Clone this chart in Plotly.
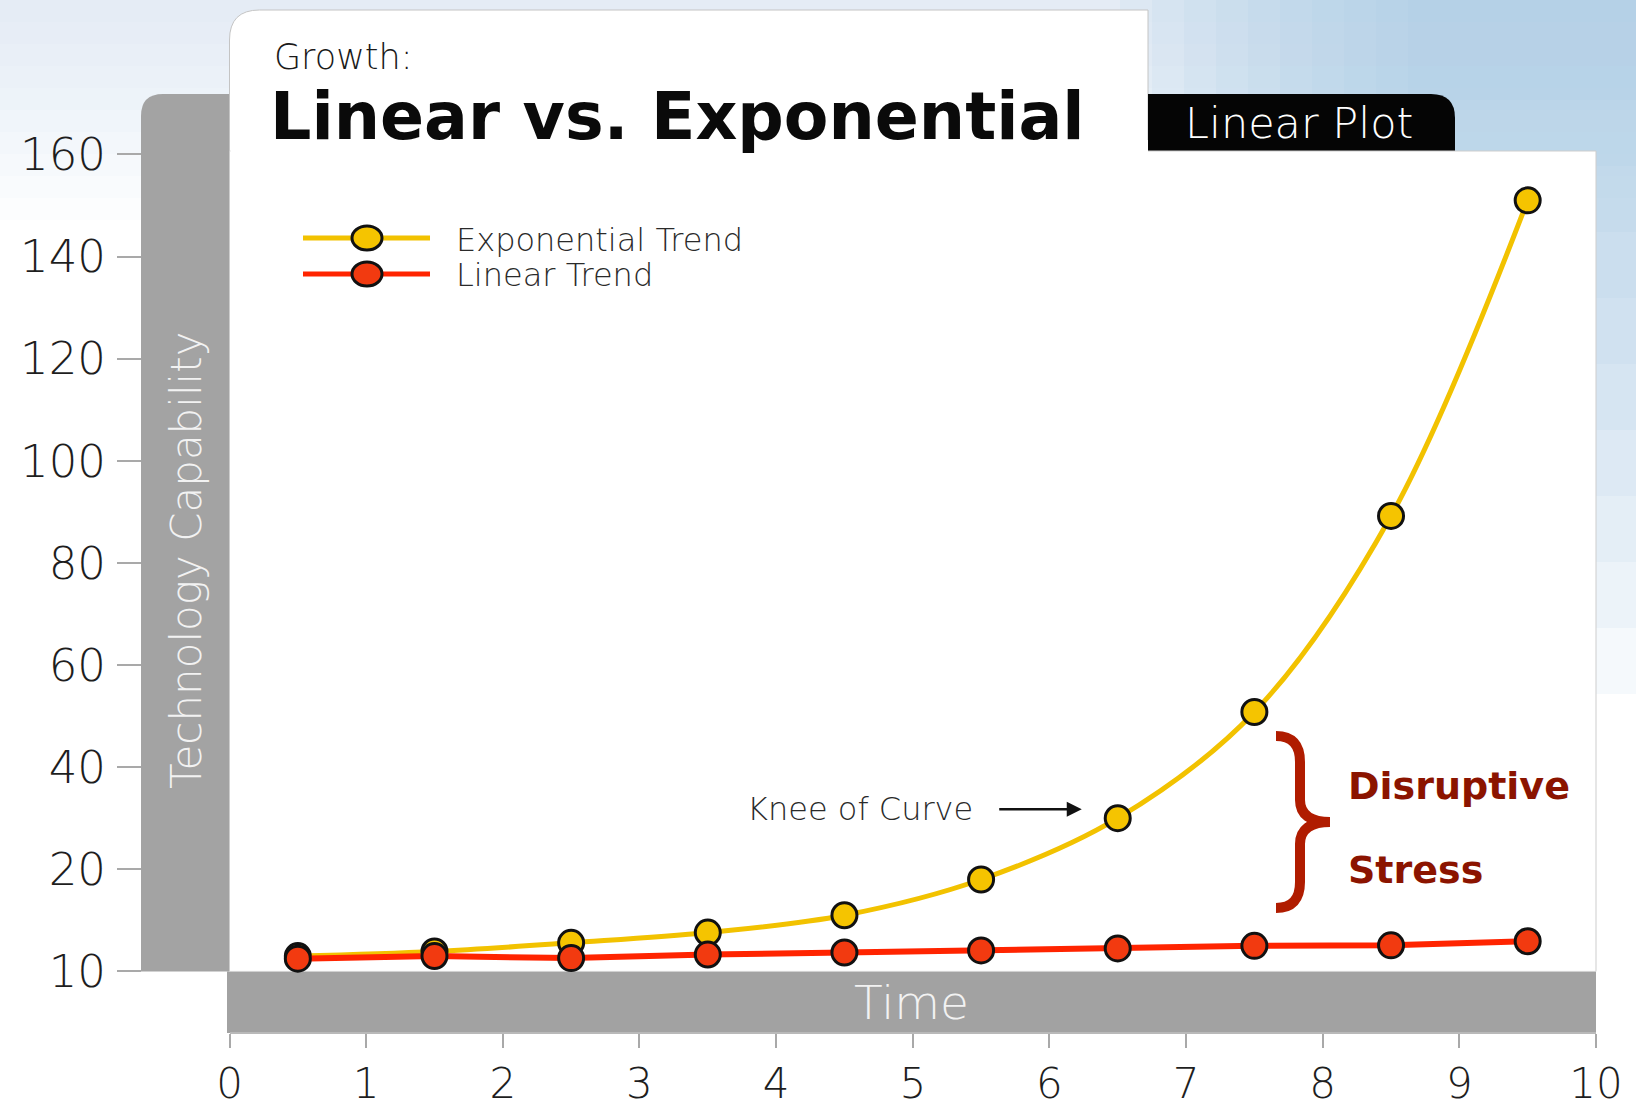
import plotly.graph_objects as go

# ---- data -------------------------------------------------------------
time_points = [0.5, 1.5, 2.5, 3.5, 4.5, 5.5, 6.5, 7.5, 8.5, 9.5]
exponential_trend = [3.0, 3.9, 5.6, 7.6, 11.0, 18.0, 30.0, 50.8, 89.2, 151.0]
linear_trend = [2.5, 3.0, 2.6, 3.3, 3.7, 4.1, 4.5, 5.0, 5.1, 5.9]

x_ticks = list(range(0, 11))
y_tick_values = [0, 20, 40, 60, 80, 100, 120, 140, 160]
y_tick_labels = ["10", "20", "40", "60", "80", "100", "120", "140", "160"]

# ---- page geometry (pixels) -------------------------------------------
W, H = 1636, 1112
PLOT_L, PLOT_R = 229.5, 1596
PLOT_T, PLOT_B = 154.4, 971.4


def px(x):
    return x / W


def py(y):
    return 1 - y / H


def rounded_path(x0, y0, x1, y1, r_tl=0, r_tr=0):
    """Rectangle path (pixel input, paper output) with optional rounded top corners."""
    pts = []
    pts.append(f"M {px(x0)},{py(y1)}")
    pts.append(f"L {px(x0)},{py(y0 + r_tl)}")
    if r_tl:
        pts.append(f"Q {px(x0)},{py(y0)} {px(x0 + r_tl)},{py(y0)}")
    pts.append(f"L {px(x1 - r_tr)},{py(y0)}")
    if r_tr:
        pts.append(f"Q {px(x1)},{py(y0)} {px(x1)},{py(y0 + r_tr)}")
    pts.append(f"L {px(x1)},{py(y1)} Z")
    return " ".join(pts)


FONT = "DejaVu Sans"
YELLOW = "#F5C400"
YELLOW_LINE = "#F2C200"
RED = "#F23A10"
RED_LINE = "#FF2400"
DARK_RED = "#8B1400"

shapes = []

# soft blue wash along the top and the right edge
for i in range(10):
    shapes.append(dict(type="rect", xref="paper", yref="paper", layer="below",
                       x0=0, x1=1, y0=py(22 * (i + 1)), y1=1,
                       fillcolor="#c9dcee", opacity=0.06, line_width=0))
for i in range(10):
    shapes.append(dict(type="rect", xref="paper", yref="paper", layer="below",
                       x0=px(1120 + 32 * i), x1=1, y0=py(100 + 66 * i), y1=1,
                       fillcolor="#a6c6e1", opacity=0.11, line_width=0))

# grey band behind the value axis
shapes.append(dict(type="path", xref="paper", yref="paper", layer="below",
                   path=rounded_path(141, 94, PLOT_L + 2, PLOT_B, r_tl=22),
                   fillcolor="#a3a3a3", line_width=0))
# grey band under the plot carrying the time label
shapes.append(dict(type="rect", xref="paper", yref="paper", layer="below",
                   x0=px(227), x1=px(PLOT_R), y0=py(1033), y1=py(PLOT_B),
                   fillcolor="#a2a2a2", line_width=0))
# title tab
shapes.append(dict(type="path", xref="paper", yref="paper", layer="below",
                   path=rounded_path(PLOT_L, 10, 1148, 160, r_tl=30),
                   fillcolor="#ffffff", line=dict(color="#c4c4c4", width=1)))
# "Linear Plot" tab
shapes.append(dict(type="path", xref="paper", yref="paper", layer="below",
                   path=rounded_path(1148, 94, 1455, 152, r_tr=24),
                   fillcolor="#050505", line_width=0))
# white plotting panel
shapes.append(dict(type="rect", xref="paper", yref="paper", layer="below",
                   x0=px(PLOT_L), x1=px(PLOT_R), y0=py(PLOT_B), y1=py(151),
                   fillcolor="#ffffff", line=dict(color="#cdcdcd", width=1)))
shapes.append(dict(type="rect", xref="paper", yref="paper", layer="below",
                   x0=px(PLOT_L + 1), x1=px(1148), y0=py(160), y1=py(140),
                   fillcolor="#ffffff", line_width=0))

# legend samples
for ly, lc, mc in [(238, YELLOW_LINE, YELLOW), (274, RED_LINE, RED)]:
    shapes.append(dict(type="line", xref="paper", yref="paper",
                       x0=px(303), x1=px(430), y0=py(ly), y1=py(ly),
                       line=dict(color=lc, width=5)))
    shapes.append(dict(type="circle", xref="paper", yref="paper",
                       x0=px(352), x1=px(382), y0=py(ly + 12), y1=py(ly - 12),
                       fillcolor=mc, line=dict(color="#111111", width=3)))

# curly brace spanning the disruptive-stress zone
bx0, bx1, bxm = 1276, 1330, 1300
bt, bb, bm = 736, 908, 822
brace = (f"M {px(bx0)},{py(bt)} "
         f"Q {px(bxm)},{py(bt)} {px(bxm)},{py(bt + 26)} "
         f"L {px(bxm)},{py(bm - 22)} "
         f"Q {px(bxm)},{py(bm)} {px(bx1)},{py(bm)} "
         f"Q {px(bxm)},{py(bm)} {px(bxm)},{py(bm + 22)} "
         f"L {px(bxm)},{py(bb - 26)} "
         f"Q {px(bxm)},{py(bb)} {px(bx0)},{py(bb)}")
shapes.append(dict(type="path", xref="paper", yref="paper", path=brace,
                   line=dict(color="#B01C00", width=10)))

fig = go.Figure()

fig.add_trace(go.Scatter(
    x=time_points, y=exponential_trend, mode="lines+markers", name="Exponential Trend",
    line=dict(color=YELLOW_LINE, width=5, shape="spline", smoothing=1.0),
    marker=dict(size=25, color=YELLOW, line=dict(color="#111111", width=3)),
    cliponaxis=False, showlegend=False,
))
fig.add_trace(go.Scatter(
    x=time_points, y=linear_trend, mode="lines+markers", name="Linear Trend",
    line=dict(color=RED_LINE, width=6),
    marker=dict(size=25, color=RED, line=dict(color="#111111", width=3)),
    cliponaxis=False, showlegend=False,
))


def paper_text(text, x, y, size, color, xanchor="left", weight=None, **kw):
    font = dict(family=FONT, size=size, color=color)
    if weight:
        font["weight"] = weight
    return dict(text=text, x=px(x), y=py(y), xref="paper", yref="paper",
                xanchor=xanchor, yanchor="middle", showarrow=False, font=font, **kw)


annotations = [
    paper_text("Growth:", 272, 57, 35, "#1a1a1a", weight=300),
    paper_text("<b>Linear vs. Exponential</b>", 268, 116, 65, "#0a0a0a"),
    paper_text("Linear Plot", 1299, 123, 43, "#ffffff", xanchor="center", weight=300),
    paper_text("Technology Capability", 186, 560, 42, "#f2f2f2", xanchor="center",
               weight=300, textangle=-90),
    paper_text("Time", 911, 1002, 47, "#f2f2f2", xanchor="center", weight=300),
    paper_text("Exponential Trend", 454, 240, 32, "#2a2a2a", weight=300),
    paper_text("Linear Trend", 454, 275, 32, "#2a2a2a", weight=300),
    paper_text("<b>Disruptive</b>", 1346, 786, 38, DARK_RED),
    paper_text("<b>Stress</b>", 1346, 870, 38, DARK_RED),
    paper_text("Knee of Curve", 860, 809, 32, "#2a2a2a", xanchor="center", weight=300),
    # arrow towards the 6.5 point of the exponential series
    dict(text="", x=time_points[6], y=exponential_trend[6], xref="x", yref="y",
         showarrow=True, ax=-120, ay=0, yshift=9, standoff=36,
         arrowhead=2, arrowsize=1.2, arrowwidth=2.5, arrowcolor="#111111"),
]

fig.update_layout(
    width=W, height=H,
    margin=dict(l=0, r=0, t=0, b=0, autoexpand=False),
    paper_bgcolor="#ffffff", plot_bgcolor="rgba(0,0,0,0)",
    shapes=shapes, annotations=annotations,
    showlegend=False,
    xaxis=dict(
        domain=[px(PLOT_L), px(PLOT_R)], range=[0, 10],
        anchor="free", position=py(1033), automargin=False,
        tickmode="array", tickvals=x_ticks, ticktext=[str(t) for t in x_ticks],
        ticks="outside", ticklen=14, tickwidth=2, tickcolor="#a9a9a9",
        showline=True, linecolor="#b9b9b9", linewidth=2,
        showgrid=False, zeroline=False, ticklabelstandoff=0,
        tickfont=dict(family=FONT, size=42, color="#1e1e1e", weight=200),
    ),
    yaxis=dict(
        domain=[py(PLOT_B), py(PLOT_T)], range=[0, 160],
        anchor="free", position=px(141), automargin=False,
        tickmode="array", tickvals=y_tick_values, ticktext=y_tick_labels,
        ticks="outside", ticklen=24, tickwidth=2, tickcolor="#a9a9a9",
        showline=False, showgrid=False, zeroline=False, ticklabelstandoff=2,
        tickfont=dict(family=FONT, size=45, color="#1e1e1e", weight=200),
    ),
)

fig.write_html("out.html")
